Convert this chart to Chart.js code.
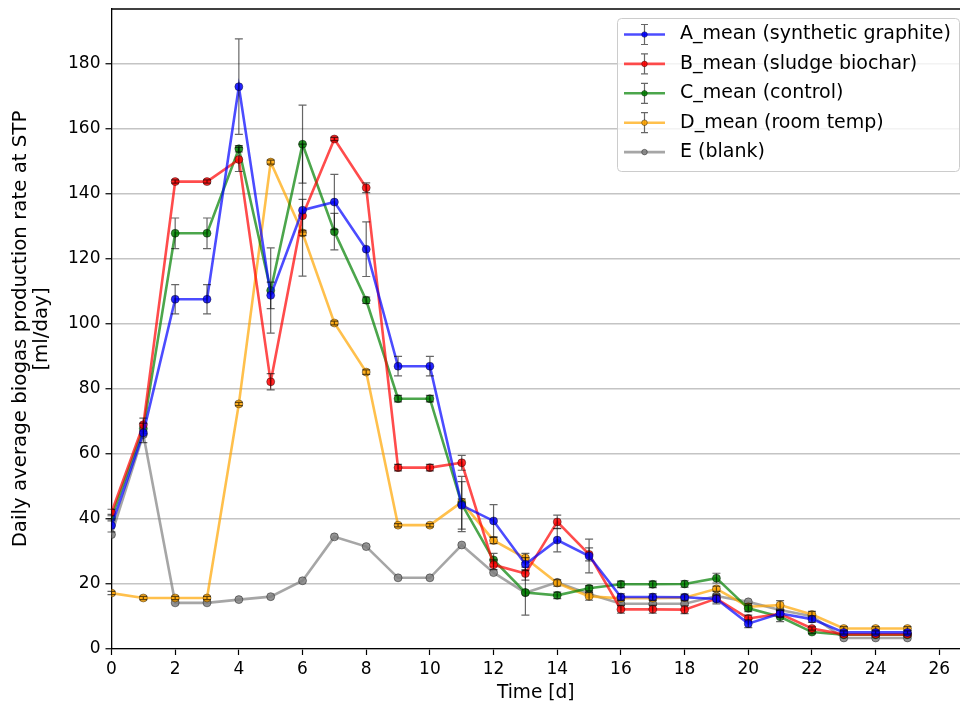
<!DOCTYPE html>
<html>
<head>
<meta charset="utf-8">
<script src="https://cdn.jsdelivr.net/npm/chart.js@4.4.1/dist/chart.umd.min.js"></script>
<style>
  html, body { margin: 0; padding: 0; background: #fff; }
  #wrap { width: 960px; height: 710px; position: relative; }
</style>
</head>
<body>
<div id="wrap"><canvas id="chartBiogas"></canvas></div>
<script>
// Días de medición
const dias = [0, 1, 2, 3, 4, 5, 6, 7, 8, 9, 10, 11, 12, 13, 14, 15, 16, 17, 18, 19, 20, 21, 22, 23, 24, 25];

// Producción media diaria [ml/day] por reactor
const mediaA = [38, 66.5, 107.6, 107.6, 173, 108.8, 135, 137.5, 123, 87, 87, 44.2, 39.4, 26.1, 33.5, 28.6, 16, 16, 15.9, 15.4, 7.8, 10.9, 9.2, 5.1, 5.1, 5.1];
const mediaB = [42, 69, 143.8, 143.8, 150.6, 82.2, 133.3, 156.9, 141.9, 55.8, 55.8, 57.3, 25.9, 23.2, 39.1, 29.1, 12.2, 12.2, 12.1, 15.5, 9.4, 10.8, 6.3, 4.5, 4.5, 4.5];
const mediaC = [40.4, 67.8, 127.9, 127.9, 153.9, 110.3, 155.3, 128.4, 107.3, 77, 77, 44.6, 27.4, 17.4, 16.5, 18.7, 19.9, 19.9, 20, 21.8, 12.5, 9.9, 5.2, 4.4, 4.4, 4.4];
const mediaD = [17.2, 15.7, 15.7, 15.7, 75.4, 149.8, 128, 100.3, 85.2, 38.1, 38.1, 45.2, 33.4, 28, 20.3, 16.2, 15.6, 15.6, 15.8, 18.5, 13, 13.5, 10.6, 6.3, 6.3, 6.3];
const blancoE = [35.2, 66, 14.2, 14.2, 15.2, 16.1, 21, 34.5, 31.5, 21.9, 21.9, 32, 23.5, 17.3, 20.5, 16.9, 13.9, 13.9, 13.9, 16.3, 14.5, 12, 10.1, 3.4, 3.4, 3.4];

// Desviación estándar
const errA = [2, 3, 4.5, 4.5, 14.7, 4.1, 20.3, 8.5, 8.4, 3, 3, 7.3, 5, 2, 3.6, 5.2, 1, 1, 1, 1.5, 1.2, 1, 1, 0.5, 0.5, 0.5];
const errB = [1, 2, 0.5, 0.5, 3.7, 2.5, 5, 0.5, 1.5, 1, 1, 2.3, 1.5, 2, 2.1, 2, 1.2, 1.2, 1.2, 1, 1, 1, 0.5, 0.3, 0.3, 0.3];
const errC = [1, 1.5, 4.7, 4.7, 1, 13.1, 12, 5.6, 1, 1, 1, 8.5, 2, 7, 1, 0.8, 1, 1, 1, 1.5, 1, 1.5, 0.5, 0.5, 0.5, 0.5];
const errD = [0.5, 0.5, 0.5, 0.5, 0.5, 0.6, 0.8, 0.6, 0.7, 0.5, 0.5, 1, 1, 1.4, 1, 1.2, 0.6, 0.6, 0.6, 0.8, 1, 1.4, 1, 0.6, 0.6, 0.6];

// Ejes
const ticksX = [0, 2, 4, 6, 8, 10, 12, 14, 16, 18, 20, 22, 24, 26];
const ticksY = [0, 20, 40, 60, 80, 100, 120, 140, 160, 180];

const series = [
  { label: "A_mean (synthetic graphite)", valores: mediaA, errores: errA, color: [0, 0, 255] },
  { label: "B_mean (sludge biochar)", valores: mediaB, errores: errB, color: [255, 0, 0] },
  { label: "C_mean (control)", valores: mediaC, errores: errC, color: [0, 128, 0] },
  { label: "D_mean (room temp)", valores: mediaD, errores: errD, color: [255, 165, 0] },
  { label: "E (blank)", valores: blancoE, errores: null, color: [128, 128, 128] },
];

const FUENTE = "'DejaVu Sans', sans-serif";
const rgba = (c, a) => `rgba(${c[0]}, ${c[1]}, ${c[2]}, ${a})`;

// Barras de error dibujadas con las escalas del gráfico
const barrasError = {
  id: "barrasError",
  afterDatasetDraw(chart, args) {
    const ds = chart.data.datasets[args.index];
    if (!ds.errores) return;
    const ctx = chart.ctx;
    const yScale = chart.scales.y;
    ctx.save();
    ctx.strokeStyle = "rgba(0, 0, 0, 0.6)";
    ctx.lineWidth = 1.2;
    args.meta.data.forEach((pt, i) => {
      const v = ds.data[i].y;
      const e = ds.errores[i];
      const top = yScale.getPixelForValue(v + e);
      const bot = yScale.getPixelForValue(v - e);
      ctx.beginPath();
      ctx.moveTo(pt.x, top);
      ctx.lineTo(pt.x, bot);
      ctx.moveTo(pt.x - 4, top);
      ctx.lineTo(pt.x + 4, top);
      ctx.moveTo(pt.x - 4, bot);
      ctx.lineTo(pt.x + 4, bot);
      ctx.stroke();
    });
    ctx.restore();
  },
};

// Marco superior y leyenda dentro del área
const marcoLeyenda = {
  id: "marcoLeyenda",
  afterDraw(chart) {
    const ctx = chart.ctx;
    const a = chart.chartArea;
    ctx.save();
    ctx.strokeStyle = "#000";
    ctx.lineWidth = 1.3;
    ctx.beginPath();
    ctx.moveTo(a.left, a.top);
    ctx.lineTo(a.right, a.top);
    ctx.stroke();

    // caja de la leyenda
    const bx = 617.5, by = 18.5, bw = 342, bh = 153;
    ctx.beginPath();
    ctx.roundRect(bx, by, bw, bh, 4);
    ctx.fillStyle = "rgba(255, 255, 255, 0.8)";
    ctx.fill();
    ctx.strokeStyle = "#cccccc";
    ctx.lineWidth = 1;
    ctx.stroke();

    ctx.font = `19px ${FUENTE}`;
    ctx.textBaseline = "middle";
    series.forEach((s, i) => {
      const y = 34.5 + i * 29.4;
      ctx.strokeStyle = rgba(s.color, 0.7);
      ctx.lineWidth = 2.6;
      ctx.beginPath();
      ctx.moveTo(624, y);
      ctx.lineTo(665, y);
      ctx.stroke();
      if (s.errores) {
        ctx.strokeStyle = "rgba(0, 0, 0, 0.6)";
        ctx.lineWidth = 1.2;
        ctx.beginPath();
        ctx.moveTo(644.5, y - 10);
        ctx.lineTo(644.5, y + 10);
        ctx.moveTo(641, y - 10);
        ctx.lineTo(648, y - 10);
        ctx.moveTo(641, y + 10);
        ctx.lineTo(648, y + 10);
        ctx.stroke();
      }
      ctx.beginPath();
      ctx.arc(644.5, y, 2.8, 0, Math.PI * 2);
      ctx.fillStyle = rgba(s.color, 0.85);
      ctx.fill();
      ctx.strokeStyle = "rgba(0, 0, 0, 0.5)";
      ctx.lineWidth = 0.8;
      ctx.stroke();
      ctx.fillStyle = "#000";
      ctx.fillText(s.label, 680, y);
    });
    ctx.restore();
  },
};

const ctx = document.getElementById("chartBiogas").getContext("2d");

new Chart(ctx, {
  type: "line",
  data: {
    datasets: series.map((s) => ({
      label: s.label,
      data: dias.map((d, i) => ({ x: d, y: s.valores[i] })),
      errores: s.errores,
      borderColor: rgba(s.color, 0.7),
      backgroundColor: rgba(s.color, 0.85),
      pointBorderColor: "rgba(0, 0, 0, 0.5)",
      pointBorderWidth: 0.8,
      pointRadius: 4,
      borderWidth: 2.6,
      tension: 0,
      fill: false,
    })),
  },
  options: {
    responsive: true,
    maintainAspectRatio: false,
    animation: false,
    layout: { autoPadding: false, padding: { top: 9, right: 0, left: 0, bottom: 0 } },
    plugins: {
      legend: { display: false },
      tooltip: { enabled: false },
    },
    scales: {
      x: {
        type: "linear",
        min: 0,
        max: 26.65,
        afterFit: (scale) => {
          scale.height = 61;
          scale.paddingLeft = 0;
          scale.paddingRight = 0;
        },
        afterBuildTicks: (scale) => { scale.ticks = ticksX.map((v) => ({ value: v })); },
        ticks: { color: "#000", font: { family: FUENTE, size: 17 }, padding: 4, maxRotation: 0 },
        grid: { drawOnChartArea: false, drawTicks: true, tickLength: 6, tickColor: "#000", tickWidth: 1.2 },
        border: { display: true, color: "#000", width: 1.3 },
        title: { display: true, text: "Time [d]", color: "#000", font: { family: FUENTE, size: 18.6 }, padding: { top: 0, bottom: 6 } },
      },
      y: {
        min: 0,
        max: 196.9,
        afterFit: (scale) => {
          scale.width = 111.5;
          scale.paddingTop = 0;
          scale.paddingBottom = 0;
        },
        afterBuildTicks: (scale) => { scale.ticks = ticksY.map((v) => ({ value: v })); },
        ticks: { color: "#000", font: { family: FUENTE, size: 17 }, padding: 5 },
        grid: { color: "#c4c4c4", lineWidth: 1.5, drawTicks: true, tickLength: 6, tickColor: "#000", tickWidth: 1.2 },
        border: { display: true, color: "#000", width: 1.3 },
        title: {
          display: true,
          text: ["Daily average biogas production rate at STP", "[ml/day]"],
          color: "#000",
          font: { family: FUENTE, size: 19.8, lineHeight: 1.05 },
          padding: { top: 10.5, bottom: 0 },
        },
      },
    },
  },
  plugins: [barrasError, marcoLeyenda],
});
</script>
</body>
</html>
